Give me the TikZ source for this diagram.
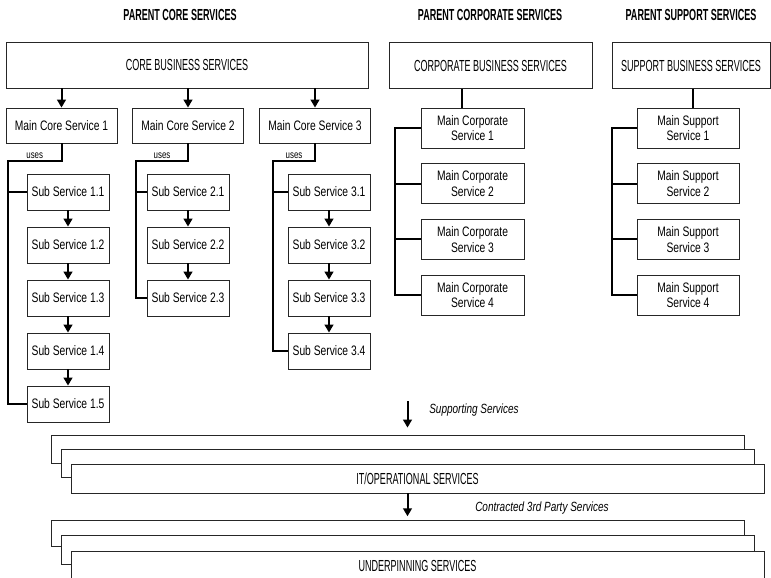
\documentclass[tikz,border=0pt]{standalone}
\usepackage{fontspec}
\setmainfont{Liberation Sans}[FakeStretch=0.75]
\newfontfamily\capsfont{Liberation Sans}[FakeStretch=0.565]
\usetikzlibrary{arrows.meta}
\newcommand{\px}{0.75pt}

\begin{document}
\begin{tikzpicture}[x=\px, y=-\px, >={Triangle[length=6pt, width=6.5pt]},
  font=\fontsize{10.3}{11.7}\selectfont,
  box/.style={draw=black!85, line width=0.6pt, fill=white, inner sep=0pt, align=center},
  capbox/.style={box, font=\capsfont\fontsize{12}{13}\selectfont},
  title/.style={font=\capsfont\bfseries\fontsize{12}{13}\selectfont},
  link/.style={line width=1.5pt},
  arr/.style={->, line width=1.5pt},
  uses/.style={above, inner sep=1pt, font=\fontsize{7.9}{8}\selectfont},
  note/.style={right, inner sep=0pt, font=\itshape\fontsize{10}{11}\selectfont}]

\useasboundingbox (0,0) rectangle (771,578);
\clip (0,0) rectangle (771,578);

% --- parent headings ---
\node[title] (pcore) at (180,15) {PARENT CORE SERVICES};
\node[title] (pcorp) at (490,15) {PARENT CORPORATE SERVICES};
\node[title] (psupp) at (691,15) {PARENT SUPPORT SERVICES};

% --- business service boxes ---
\node[capbox, minimum width=362*\px, minimum height=46*\px] (core) at (187,65) {CORE BUSINESS SERVICES};
\node[capbox, minimum width=203*\px, minimum height=46*\px] (corp) at (490.5,65.5) {CORPORATE BUSINESS SERVICES};
\node[capbox, minimum width=158*\px, minimum height=46*\px] (supp) at (691,65.5) {SUPPORT BUSINESS SERVICES};

% --- main core services ---
\foreach \i/\x in {1/61.5, 2/188, 3/315} {
  \node[box, minimum width=111*\px, minimum height=35*\px] (mc\i) at (\x,125.5) {Main Core Service \i};
  \draw[arr] (core.south -| mc\i) -- (mc\i);
}

% --- sub services (columns) ---
\foreach \c/\x/\n in {1/68/5, 2/188/3, 3/329/4} {
  \foreach \r in {1,...,\n} {
    \node[box, minimum width=82*\px, minimum height=36*\px] (s\c-\r) at (\x,192+53*\r-53) {Sub Service \c.\r};
  }
}
\foreach \c/\n in {1/4, 2/2, 3/3} {
  \foreach \r in {1,...,\n} {
    \pgfmathtruncatemacro{\nx}{\r+1}
    \draw[arr] (s\c-\r) -- (s\c-\nx);
  }
}

% uses brackets
\foreach \c/\x/\n in {1/8/5, 2/136/3, 3/273/4} {
  \coordinate (u\c) at (\x,161);
  \draw[link] (mc\c.south) |- node[uses, pos=0.75] {uses} (u\c) |- (s\c-1.west);
  \draw[link] (u\c) |- (s\c-\n.west);
}

% --- corporate / support services ---
\foreach \i in {1,...,4} {
  \node[box, minimum width=103*\px, minimum height=40*\px] (mcp\i) at (472.5,128+55.67*\i-55.67) {Main Corporate\\Service \i};
  \node[box, minimum width=102*\px, minimum height=40*\px] (msp\i) at (688,128+55.67*\i-55.67) {Main Support\\Service \i};
}
\coordinate (cv) at ([xshift=-10.5*\px]mcp1.north);
\coordinate (sv) at ([xshift=5*\px]msp1.north);
\draw[link] (corp.south -| cv) -- (cv);
\draw[link] (supp.south -| sv) -- (sv);

\coordinate (cb) at (395,0);
\coordinate (sb) at (612,0);
\draw[link] (mcp1.west) -- (mcp1.west -| cb) -- (mcp4.west -| cb) -- (mcp4.west);
\draw[link] (msp1.west) -- (msp1.west -| sb) -- (msp4.west -| sb) -- (msp4.west);
\foreach \i in {2,3} {
  \draw[link] (mcp\i.west -| cb) -- (mcp\i.west);
  \draw[link] (msp\i.west -| sb) -- (msp\i.west);
}

% --- IT / operational stack ---
\node[box, minimum width=693*\px, minimum height=28*\px] (itb) at (397.5,449) {};
\node[box, minimum width=693*\px, minimum height=28*\px] (itm) at (407.5,463.5) {};
\node[capbox, minimum width=693*\px, minimum height=29*\px] (itf) at (417.5,478.5) {IT/OPERATIONAL SERVICES};

% --- underpinning stack ---
\node[box, minimum width=693*\px, minimum height=26*\px] (upb) at (397.5,533.7) {};
\node[box, minimum width=693*\px, minimum height=28.7*\px] (upm) at (407.5,549.6) {};
\node[capbox, minimum width=693*\px, minimum height=29*\px] (upf) at (417.5,566.2) {UNDERPINNING SERVICES};

% supporting arrows
\coordinate (sup) at (407.5,401);
\draw[arr, shorten >=7*\px] (sup) -- (sup |- itb.north);
\node[note] (suplbl) at (429,410) {Supporting Services};
\draw[arr, shorten >=4*\px] (itf.south -| itm) -- (upb.north -| itm);
\node[note] (tplbl) at (475,508) {Contracted 3rd Party Services};

\end{tikzpicture}
\end{document}
